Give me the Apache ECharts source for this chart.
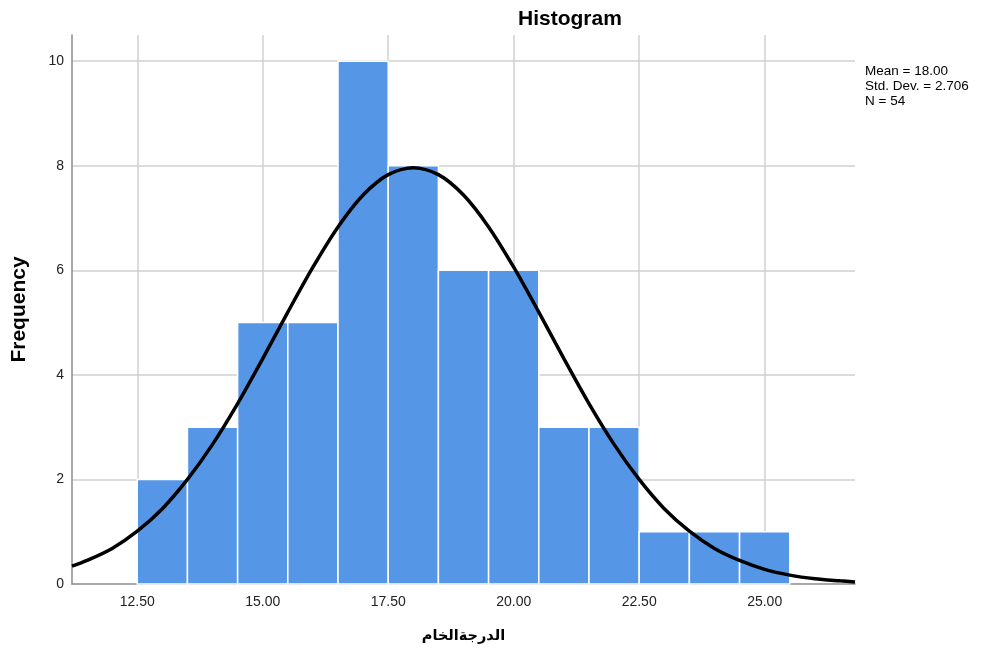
<!DOCTYPE html>
<html><head><meta charset="utf-8">
<script src="https://cdn.jsdelivr.net/npm/echarts@6/dist/echarts.min.js"></script>
<style>html,body{margin:0;padding:0;background:#fff}#c{width:982px;height:655px}</style>
</head><body><div id="c"></div>
<script>
// Histogram bins (start, end) and frequencies
const binStarts = [12.5,13.5,14.5,15.5,16.5,17.5,18.5,19.5,20.5,21.5,22.5,23.5,24.5];
const binWidth = 1;
const frequencies = [2,3,5,5,10,8,6,6,3,3,1,1,1];
// Normal curve points
const curveX = [11.2,11.5,12,12.5,13,13.5,14,14.5,15,15.5,16,16.5,17,17.5,18,18.5,19,19.5,20,20.5,21,21.5,22,22.5,23,23.5,24,24.5,25,25.5,26,26.5,26.8];
const curveY = [0.34,0.45,0.68,1.01,1.44,2.00,2.67,3.45,4.31,5.20,6.06,6.83,7.44,7.83,7.96,7.83,7.44,6.83,6.06,5.20,4.31,3.45,2.67,2.00,1.44,1.01,0.68,0.45,0.28,0.17,0.10,0.06,0.04];
// Tick labels
const xTicks = [12.5,15,17.5,20,22.5,25];
const yTicks = [0,2,4,6,8,10];
const statsLines = ['Mean = 18.00','Std. Dev. = 2.706','N = 54'];

const FONT = '"Liberation Sans", Arial, "DejaVu Sans", sans-serif';
const chart = echarts.init(document.getElementById('c'), null, {renderer:'canvas'});

const barData = binStarts.map((s,i)=>[s, s+binWidth, frequencies[i]]);
const lineData = curveX.map((x,i)=>[x, curveY[i]]);

chart.setOption({
  animation:false,
  backgroundColor:'#fff',
  title:{
    text:'Histogram', left:513, top:4,
    textStyle:{fontFamily:FONT, fontSize:21, fontWeight:'bold', color:'#000'}
  },
  graphic:[{
    type:'text', left:865, top:64,
    style:{text:statsLines.join('\n'), font:'13.5px '+FONT, fill:'#000', lineHeight:15}
  }],
  grid:{left:72, right:127, top:35, bottom:71},
  xAxis:{
    type:'value', min:11.2, max:26.8,
    name:'الدرجةالخام', nameLocation:'middle', nameGap:44,
    nameTextStyle:{fontFamily:FONT, fontSize:14.5, fontWeight:'bold', color:'#000'},
    axisLine:{show:true, onZero:false, lineStyle:{color:'#8c8c8c', width:1.5}},
    axisTick:{show:false},
    splitLine:{show:false},
    axisLabel:{customValues:xTicks, formatter:v=>v.toFixed(2), fontFamily:FONT, fontSize:14, color:'#222', margin:11}
  },
  yAxis:{
    type:'value', min:0, max:10.5,
    name:'Frequency', nameLocation:'middle', nameGap:42, nameRotate:90,
    nameTextStyle:{fontFamily:FONT, fontSize:21, fontWeight:'bold', color:'#000'},
    axisLine:{show:true, lineStyle:{color:'#8c8c8c', width:1.5}},
    axisTick:{show:false},
    splitLine:{show:false},
    axisLabel:{customValues:yTicks, fontFamily:FONT, fontSize:14, color:'#222', margin:8}
  },
  series:[
    {
      type:'scatter', data:[], z:0, silent:true,
      markLine:{
        z:0, silent:true, symbol:'none', label:{show:false},
        lineStyle:{color:'#d0d0d0', type:'solid', width:1.5},
        data: xTicks.map(v=>({xAxis:v})).concat(yTicks.filter(v=>v>0).map(v=>({yAxis:v})))
      }
    },
    {
      type:'custom', z:10, data:barData,
      renderItem:function(params, api){
        const p0 = api.coord([api.value(0), api.value(2)]);
        const p1 = api.coord([api.value(1), 0]);
        return {type:'rect', shape:{x:p0[0], y:p0[1], width:p1[0]-p0[0], height:p1[1]-p0[1]},
          style:{fill:'#5596e6', stroke:'#ffffff', lineWidth:1.5}};
      },
      encode:{x:[0,1], y:2}
    },
    {
      type:'line', z:20, data:lineData, smooth:0.3, symbol:'none', clip:true,
      lineStyle:{color:'#000', width:3.5}
    }
  ]
});
</script></body></html>
